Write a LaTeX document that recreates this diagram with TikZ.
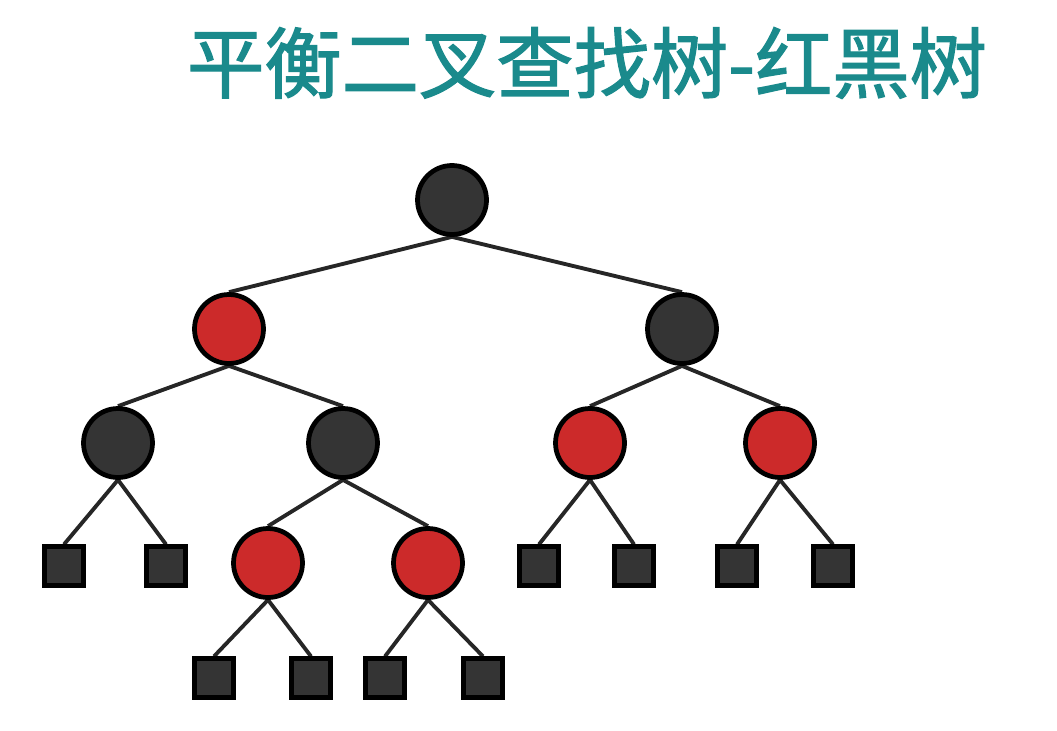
\documentclass[tikz,border=0pt]{standalone}
\usepackage{fontspec}
\newfontfamily\cjk{Noto Sans CJK SC}[FakeBold=1.6]
\usetikzlibrary{backgrounds}
\definecolor{titleteal}{RGB}{26,138,140}
\definecolor{nodedark}{RGB}{52,52,52}
\definecolor{nodered}{RGB}{204,42,42}
\begin{document}
\begin{tikzpicture}[x=0.02cm, y=-0.02cm,
    blk/.style={circle, draw=black, line width=2.7pt, fill=nodedark, minimum size=1.38cm, inner sep=0pt},
    red/.style={circle, draw=black, line width=2.7pt, fill=nodered, minimum size=1.38cm, inner sep=0pt},
    leaf/.style={rectangle, draw=black, line width=2.4pt, fill=nodedark, minimum size=0.78cm, inner sep=0pt},
    edge/.style={draw=black!85, line width=2.2pt}]
    \useasboundingbox (0,0) rectangle (1057,730);
    % title
    \node (title) at (587,63) {\cjk\fontsize{44}{44}\selectfont\color{titleteal}平衡二叉查找树-红黑树};
    % tree nodes
    \node[blk] (b0) at (452,200) {};
    \node[red] (r1) at (229,329) {};
    \node[blk] (b1) at (682,329) {};
    \node[blk] (b2) at (118,443) {};
    \node[blk] (b3) at (343,443) {};
    \node[red] (r2) at (590,443) {};
    \node[red] (r3) at (780,443) {};
    \node[leaf] (n1) at (64,566) {};
    \node[leaf] (n2) at (166,566) {};
    \node[red] (r4) at (268,563) {};
    \node[red] (r5) at (428,563) {};
    \node[leaf] (n3) at (539,566) {};
    \node[leaf] (n4) at (634,566) {};
    \node[leaf] (n5) at (737,566) {};
    \node[leaf] (n6) at (833,566) {};
    \node[leaf] (n7) at (214,678) {};
    \node[leaf] (n8) at (311,678) {};
    \node[leaf] (n9) at (385,678) {};
    \node[leaf] (n10) at (483,678) {};
    % edges behind the nodes
    \begin{scope}[on background layer]
        \foreach \p/\c in {b0/r1, b0/b1, r1/b2, r1/b3, b1/r2, b1/r3,
                           b2/n1, b2/n2, b3/r4, b3/r5, r2/n3, r2/n4, r3/n5, r3/n6,
                           r4/n7, r4/n8, r5/n9, r5/n10}
            \draw[edge] (\p.south) -- (\c.north);
    \end{scope}
\end{tikzpicture}
\end{document}
